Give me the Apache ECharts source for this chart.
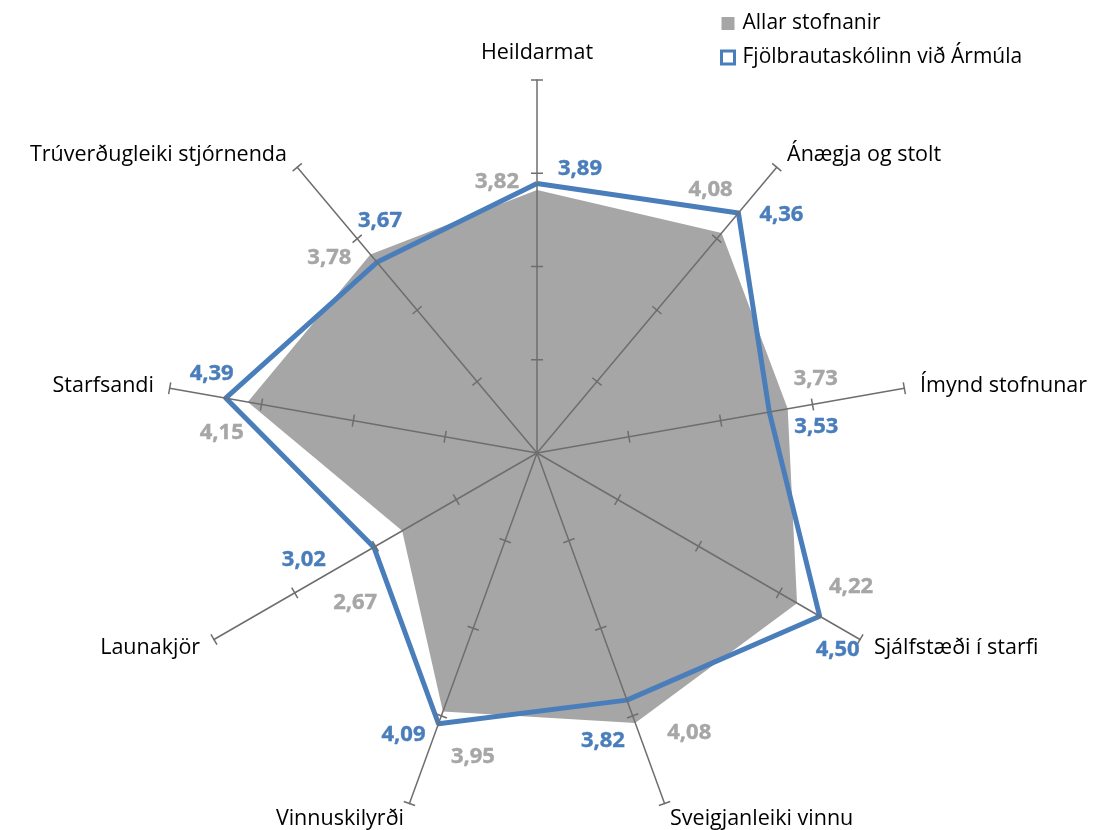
<!DOCTYPE html>
<html>
<head>
<meta charset="utf-8">
<script src="https://cdn.jsdelivr.net/npm/echarts@6/dist/echarts.min.js"></script>
<style>
  html, body { margin: 0; padding: 0; background: #fff; }
  #chart { width: 1098px; height: 830px; }
</style>
</head>
<body>
<div id="chart"></div>
<script>
// flokkar (ásar), réttsælis frá toppi
const categories = [
  'Heildarmat', 'Ánægja og stolt', 'Ímynd stofnunar', 'Sjálfstæði í starfi',
  'Sveigjanleiki vinnu', 'Vinnuskilyrði', 'Launakjör', 'Starfsandi',
  'Trúverðugleiki stjórnenda'
]
const seriesNames = ['Allar stofnanir', 'Fjölbrautaskólinn við Ármúla']
const allar = [3.82, 4.08, 3.73, 4.22, 4.08, 3.95, 2.67, 4.15, 3.78]
const fa = [3.89, 4.36, 3.53, 4.50, 3.82, 4.09, 3.02, 4.39, 3.67]
const axisMin = 1
const axisMax = 5
const tickValues = [2, 3, 4, 5]

// label offsets (px) from each point
const grayOffsets = [[-40, -8], [-11, -43], [28, -30], [54, -16], [54, 10], [30, 45], [-47, 72], [-26, 31], [-41, 3]]
const blueOffsets = [[43, -15], [43, 2], [47, 15], [18, 34], [-24, 41], [-35, 11], [-70, 13], [-14, -24], [3, -42]]

const GRAY = '#A6A6A6'
const BLUE = '#4A7EBB'
const AXIS = '#6E6E6E'
const FONT = '"Open Sans", Lato, sans-serif'
const CENTER = [537, 453]
const RADIUS = 373
const N = categories.length

// echarts radar goes counter-clockwise, so reorder: top first, then the rest reversed
const order = [0].concat(categories.map((c, i) => i).slice(1).reverse())
const indicator = order.map(i => ({ name: categories[i], min: axisMin, max: axisMax }))
const radarValues = arr => order.map(i => arr[i])
const fmt = v => v.toFixed(2).replace('.', ',')

const labelSeries = (name, values, offsets, color) => ({
  name,
  type: 'scatter',
  coordinateSystem: 'polar',
  symbolSize: 1,
  itemStyle: { color: 'transparent', opacity: 1 },
  silent: true,
  z: 10,
  data: values.map((v, i) => ({
    value: [v, i],
    label: { offset: offsets[i] }
  })),
  label: {
    show: true,
    position: 'inside',
    formatter: p => fmt(p.value[0]),
    color,
    fontSize: 22,
    fontWeight: 'bold',
    fontFamily: FONT,
    textBorderColor: color,
    textBorderWidth: 0.4
  }
})

// cross ticks on each spoke
const tickData = []
categories.forEach((c, i) => {
  tickValues.forEach(t => {
    tickData.push({ value: [t, i], symbolRotate: (90 - 40 * i) - 90 })
  })
})

const chart = echarts.init(document.getElementById('chart'))
chart.setOption({
  backgroundColor: '#fff',
  animation: false,
  legend: {
    orient: 'vertical',
    left: 715,
    top: 8,
    itemWidth: 13,
    itemHeight: 13,
    itemGap: 13,
    textStyle: { color: '#000', fontSize: 21, fontFamily: FONT, padding: [0, 0, 0, 3] },
    data: [
      { name: seriesNames[0], icon: 'rect', itemStyle: { color: GRAY, borderWidth: 0 } },
      { name: seriesNames[1], icon: 'rect', itemStyle: { color: '#fff', borderColor: BLUE, borderWidth: 3 } }
    ]
  },
  radar: {
    center: CENTER,
    radius: RADIUS,
    startAngle: 90,
    splitNumber: 4,
    shape: 'polygon',
    z: 5,
    indicator,
    axisNameGap: 16,
    axisName: { color: '#000', fontSize: 21.5, fontFamily: FONT },
    axisLine: { lineStyle: { color: AXIS, width: 1.5 } },
    axisTick: { show: false },
    splitLine: { show: false },
    splitArea: { show: false }
  },
  polar: { center: CENTER, radius: RADIUS },
  angleAxis: {
    type: 'value',
    min: 0,
    max: N,
    startAngle: 90,
    clockwise: true,
    show: false
  },
  radiusAxis: { min: axisMin, max: axisMax, show: false },
  series: [{
    name: seriesNames[0],
    type: 'radar',
    z: 1,
    symbol: 'none',
    lineStyle: { width: 0, color: GRAY },
    itemStyle: { color: GRAY },
    areaStyle: { color: GRAY, opacity: 1 },
    data: [{ value: radarValues(allar), name: seriesNames[0] }]
  }, {
    name: seriesNames[1],
    type: 'radar',
    z: 2,
    symbol: 'none',
    lineStyle: { width: 5, color: BLUE },
    itemStyle: { color: BLUE },
    data: [{ value: radarValues(fa), name: seriesNames[1] }]
  }, {
    name: 'ticks',
    type: 'scatter',
    coordinateSystem: 'polar',
    symbol: 'rect',
    symbolSize: [12, 1.5],
    itemStyle: { color: AXIS, opacity: 1 },
    silent: true,
    z: 8,
    data: tickData
  },
  labelSeries('lbl-allar', allar, grayOffsets, GRAY),
  labelSeries('lbl-fa', fa, blueOffsets, BLUE)]
})
</script>
</body>
</html>
